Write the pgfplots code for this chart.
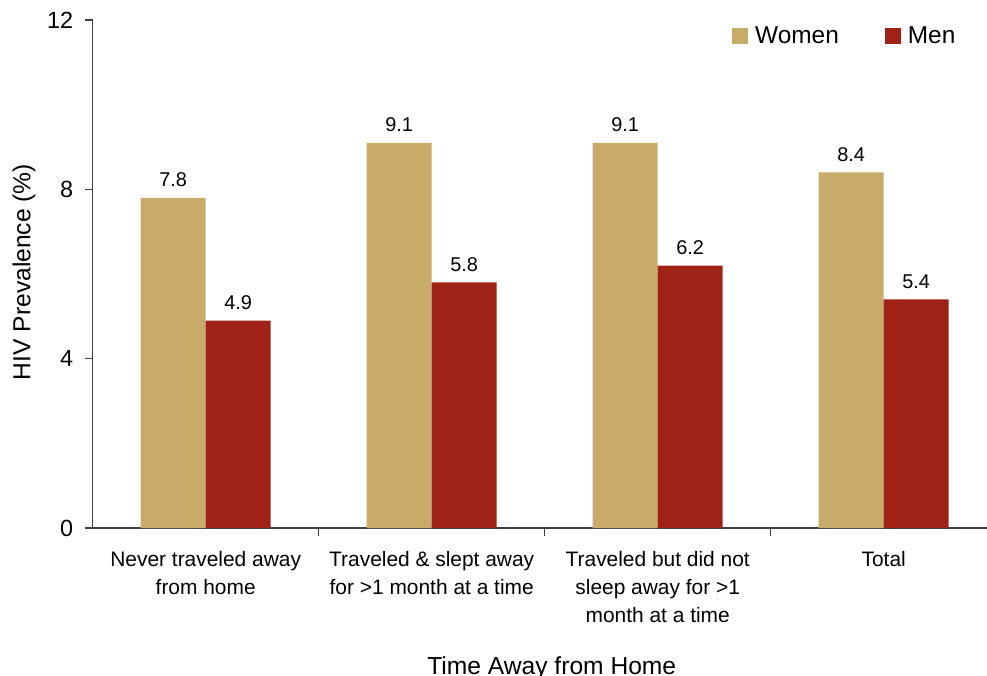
\documentclass[border=0pt]{standalone}
\usepackage{fontspec}
\setmainfont{Liberation Sans}
\usepackage{pgfplots}
\pgfplotsset{compat=1.18}
\definecolor{women}{RGB}{200,171,105}
\definecolor{men}{RGB}{160,34,22}
\definecolor{axisgray}{RGB}{64,64,64}
\begin{document}
\begin{tikzpicture}
\path[use as bounding box] (-92.7bp,-148bp) rectangle (894.3bp,528bp);
\begin{axis}[
  at={(0,0)}, anchor=south west,
  scale only axis, width=894.3bp, height=508bp,
  xmin=-0.5, xmax=3.457, ymin=0, ymax=12,
  axis x line=bottom, axis y line=left,
  axis line style={-, draw=axisgray, line width=1.2bp},
  ytick={0,4,8,12},
  xtick={0,1,2,3},
  xticklabels={{Never traveled away\\from home},{Traveled \& slept away\\for >1 month at a time},{Traveled but did not\\sleep away for >1\\month at a time},{Total}},
  minor xtick={0.5,1.5,2.5},
  tick align=outside,
  major tick length=8bp, minor tick length=8bp,
  tick style={draw=axisgray, line width=1.2bp},
  major x tick style={draw=none},
  /pgf/number format/assume math mode=true,
  yticklabel style={font=\fontsize{23.5}{28}\selectfont, xshift=-8bp},
  xticklabel style={font=\fontsize{21}{28}\selectfont, align=center, anchor=north, yshift=-12bp},
  every axis y label/.style={at={(axis description cs:-0.0768,0.504)}, anchor=center, rotate=90, font=\fontsize{24.7}{28}\selectfont},
  every axis x label/.style={at={(axis description cs:0.5133,-0.2874)}, anchor=base, font=\fontsize{24.7}{28}\selectfont},
  ylabel={HIV Prevalence (\%)},
  xlabel={Time Away from Home},
  ybar, bar width=65bp,
  nodes near coords,
  every node near coord/.append style={font=\fontsize{20}{24}\selectfont, anchor=base, yshift=11bp, text=black},
  legend columns=2,
  legend image code/.code={\fill[#1] (0bp,-8bp) rectangle (16bp,8bp);},
  legend style={at={(axis description cs:0.7149,0.9685)}, anchor=west, draw=none, fill=none, inner sep=0pt,
    font=\fontsize{24.5}{28}\selectfont,
    /tikz/every odd column/.append style={column sep=5bp},
    /tikz/every even column/.append style={column sep=44bp}},
]
\addplot[fill=women, draw=none, bar shift=-32.5bp] coordinates {(0,7.8) (1,9.1) (2,9.1) (3,8.4)};
\addplot[fill=men, draw=none, bar shift=32.5bp] coordinates {(0,4.9) (1,5.8) (2,6.2) (3,5.4)};
\legend{Women,Men}
\end{axis}
\end{tikzpicture}
\end{document}
